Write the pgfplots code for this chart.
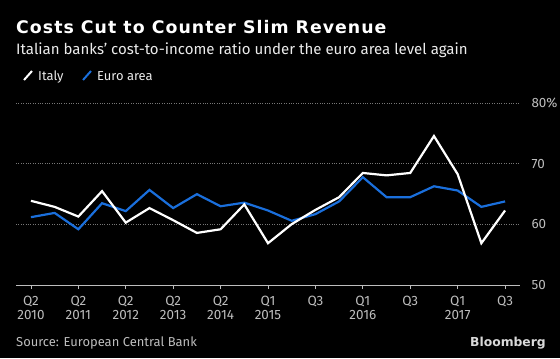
\documentclass[border=0pt]{standalone}
\usepackage{pgfplots}
\pgfplotsset{compat=1.18}
\usepackage{fontspec}
\setmainfont{Fira Sans}
\newfontfamily\titlefont{DejaVu Sans}
\newfontface\titleface[LetterSpace=6.0]{DejaVu Sans Bold}
\definecolor{bblue}{HTML}{1A6FDC}
\definecolor{tickgray}{HTML}{BDBDBD}
\definecolor{gridgray}{HTML}{777777}
\begin{document}
\begin{tikzpicture}[x=1bp,y=1bp]
\fill[black] (0,0) rectangle (560,358);
\useasboundingbox (0,0) rectangle (560,358);
\coordinate (A) at (16,73);
\node[anchor=base west,inner sep=0pt,text=white,font=\titleface\fontsize{17.4}{22}\selectfont] at (16,324.7) {Costs Cut to Counter Slim Revenue};
\node[anchor=base west,inner sep=0pt,text=white!92!black,font=\fontsize{15.1}{18}\selectfont] at (16,303.7) {Italian banks' cost-to-income ratio under the euro area level again};
\draw[white,line width=2pt] (24,278) -- (32,287);
\node[anchor=base west,inner sep=0pt,text=white!92!black,font=\fontsize{13}{15}\selectfont] at (38,278) {Italy};
\draw[bblue,line width=2pt] (83,278) -- (91,287);
\node[anchor=base west,inner sep=0pt,text=white!92!black,font=\fontsize{13}{15}\selectfont] at (97,278) {Euro area};
\node[anchor=base west,inner sep=0pt,text=tickgray,font=\fontsize{13}{15}\selectfont] at (16,12) {Source: European Central Bank};
\node[anchor=base east,inner sep=0pt,text=white!85!black,font=\titlefont\fontsize{12.4}{16}\selectfont\bfseries] at (546,12) {Bloomberg};
\begin{axis}[
  at={(A)}, anchor=south west,
  scale only axis, width=504bp, height=181.7bp,
  xmin=-0.63, xmax=20.63, ymin=50, ymax=80,
  axis x line*=bottom, axis y line*=right,
  y axis line style={draw=none},
  x axis line style={tickgray,line width=0.8pt,-},
  clip=false,
  xtick={0,2,...,20},
  xticklabels={{Q2\\2010},{Q2\\2011},{Q2\\2012},{Q2\\2013},{Q2\\2014},{Q1\\2015},{Q3\\\strut},{Q1\\2016},{Q3\\\strut},{Q1\\2017},{Q3\\\strut}},
  xticklabel style={align=center,text=tickgray,font=\fontsize{13.5}{14}\selectfont,inner sep=0pt,yshift=-7bp},
  x tick style={tickgray,line width=0.8pt},
  tick align=outside, major tick length=4bp,
  ytick={50,60,70,80},
  yticklabels={50,60,70,80\%},
  yticklabel style={text=tickgray,font=\fontsize{13.5}{15}\selectfont,anchor=west,xshift=4bp},
  y tick style={draw=none},
  ymajorgrids, grid style={gridgray,dotted,line width=0.9pt},
]
\addplot[bblue,line width=2.2pt,line join=miter] coordinates {
(0,61.2) (1,61.9) (2,59.2) (3,63.5) (4,62.2) (5,65.7) (6,62.7) (7,65.0) (8,63.0) (9,63.6)
(10,62.3) (11,60.6) (12,61.7) (13,63.8) (14,67.8) (15,64.5) (16,64.5) (17,66.3) (18,65.6) (19,62.9) (20,63.8)};
\addplot[white,line width=2.2pt,line join=miter] coordinates {
(0,63.9) (1,62.9) (2,61.3) (3,65.5) (4,60.3) (5,62.7) (6,60.7) (7,58.6) (8,59.2) (9,63.3)
(10,56.9) (11,60.05) (12,62.4) (13,64.5) (14,68.5) (15,68.1) (16,68.5) (17,74.6) (18,68.3) (19,56.9) (20,62.3)};
\end{axis}
\end{tikzpicture}
\end{document}
